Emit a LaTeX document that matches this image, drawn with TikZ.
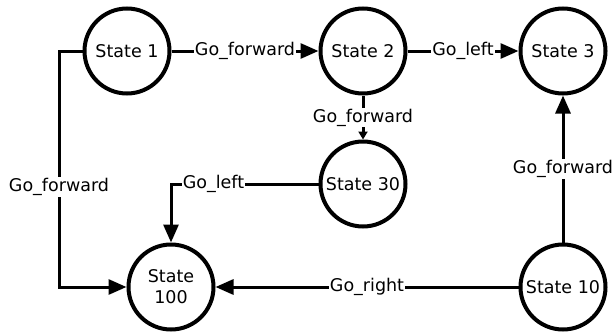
\documentclass[tikz,border=0pt]{standalone}
\usepackage{fontspec}
\setmainfont{DejaVu Sans}
\usetikzlibrary{arrows.meta}
\begin{document}
\begin{tikzpicture}[x=1pt,y=-1pt,
  state/.style={circle,draw,line width=4pt,minimum size=85pt,inner sep=0pt,align=center,
    font=\fontsize{17.5}{21}\selectfont},
  conn/.style={line width=3pt,-{Triangle[length=18pt,width=15pt]}},
  smallconn/.style={line width=3pt,-{Triangle[length=8pt,width=9pt]}},
  lbl/.style={fill=white,inner sep=1pt,font=\fontsize{17.5}{21}\selectfont}]
\useasboundingbox (0,0) rectangle (615,332);
\node[state] (s1) at (127,51) {State 1};
\node[state] (s2) at (363,51) {State 2};
\node[state] (s3) at (563,51) {State 3};
\node[state] (s30) at (363,184) {State 30};
\node[state] (s10) at (563,287) {State 10};
\node[state] (s100) at (171,287) {State\\100};
\coordinate (k1) at (59,51);
\coordinate (k2) at (59,287);
\draw[conn] (s1) -- node[lbl]{Go\_forward} (s2);
\draw[conn] (s2) -- node[lbl]{Go\_left} (s3);
\draw[smallconn] (s2) -- node[lbl]{Go\_forward} (s30);
\draw[conn] (s1.west) -- (k1) -- node[lbl,pos=0.576]{Go\_forward} (k2) -- (s100.west);
\draw[conn] (s30.west) -| node[lbl,pos=0.356]{Go\_left} (s100.north);
\draw[conn] (s10) -- node[lbl]{Go\_right} (s100);
\draw[conn] (s10) -- node[lbl]{Go\_forward} (s3);
\end{tikzpicture}
\end{document}
